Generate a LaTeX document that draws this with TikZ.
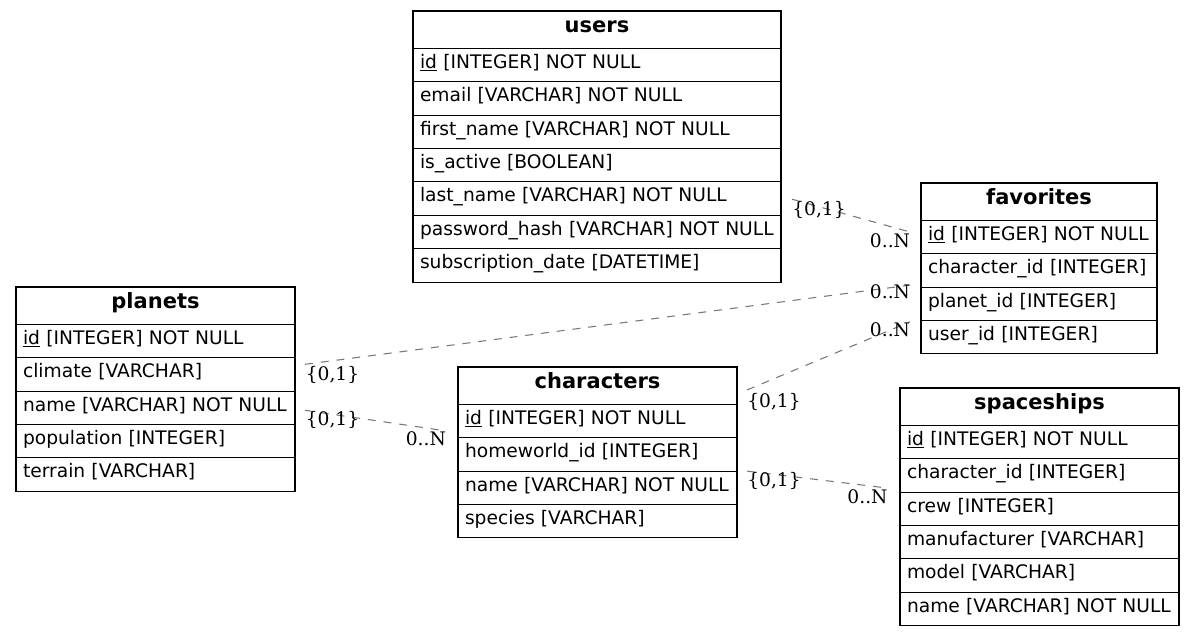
\documentclass[tikz,border=0pt]{standalone}
\usepackage{fontspec}
\setmainfont{DejaVu Sans}
\newfontfamily\cardfont{DejaVu Serif}
\usetikzlibrary{calc}
\definecolor{relgray}{RGB}{120,120,120}

\tikzset{
  tblhead/.style={draw, line width=0.8pt, outer sep=0pt, inner sep=0pt,
    minimum height=27.98pt, font=\fontsize{15.75}{18}\selectfont\bfseries,
    text height=0.7em, text depth=0.24em},
  tblrow/.style={draw, line width=0.8pt, outer sep=0pt, inner xsep=5.25pt,
    inner ysep=0pt, minimum height=25.05pt, align=left,
    font=\fontsize{14}{16.8}\selectfont, text height=0.72em, text depth=0.24em},
  rel/.style={draw=relgray, line width=0.8pt, dash pattern=on 6pt off 5.9pt},
  card/.style={anchor=base, inner sep=0pt, font=\cardfont\fontsize{14}{16.8}\selectfont}
}

% #1 name, #2 top-left corner, #3 width (px), #4 title, #5 column rows
\newcommand\erdtable[5]{%
  \pgfmathsetmacro\erdw{#3*0.75}%
  \pgfmathsetmacro\erdtw{(#3-14)*0.75}%
  \node[tblhead, minimum width=\erdw pt, anchor=north west] (#1-0) at #2 {#4};
  \foreach \r [count=\i, remember=\i as \j (initially 0)] in {#5}{
    \node[tblrow, text width=\erdtw pt, anchor=north west] (#1-\i) at (#1-\j.south west) {\r};
  }%
}

\begin{document}
\begin{tikzpicture}[x=0.75pt, y=-0.75pt]
  \fill[white] (0,0) rectangle (1195,637);
  \useasboundingbox (0,0) rectangle (1195,637);

  % tables
  \erdtable{users}{(413,11)}{368}{users}{%
    \underline{id} [INTEGER] NOT NULL,
    email [VARCHAR] NOT NULL,
    first\_name [VARCHAR] NOT NULL,
    is\_active [BOOLEAN],
    last\_name [VARCHAR] NOT NULL,
    password\_hash [VARCHAR] NOT NULL,
    subscription\_date [DATETIME]}

  \erdtable{favorites}{(921,183)}{236}{favorites}{%
    \underline{id} [INTEGER] NOT NULL,
    character\_id [INTEGER],
    planet\_id [INTEGER],
    user\_id [INTEGER]}

  \erdtable{planets}{(16,287)}{279}{planets}{%
    \underline{id} [INTEGER] NOT NULL,
    climate [VARCHAR],
    name [VARCHAR] NOT NULL,
    population [INTEGER],
    terrain [VARCHAR]}

  \erdtable{characters}{(458,367)}{279}{characters}{%
    \underline{id} [INTEGER] NOT NULL,
    homeworld\_id [INTEGER],
    name [VARCHAR] NOT NULL,
    species [VARCHAR]}

  \erdtable{spaceships}{(900,388)}{279}{spaceships}{%
    \underline{id} [INTEGER] NOT NULL,
    character\_id [INTEGER],
    crew [INTEGER],
    manufacturer [VARCHAR],
    model [VARCHAR],
    name [VARCHAR] NOT NULL}

  % relations
  \draw[rel] ($(users-5.east)+(11,0.6)$) -- ($(favorites-1.west)+(-11,-5)$);
  \draw[rel] ($(planets-1.south east)+(10,6.6)$) -- ($(favorites-2.south west)+(-11,-2)$);
  \draw[rel] ($(characters-0.east)+(10,4.3)$) -- ($(favorites-3.south west)+(-11,1.3)$);
  \draw[rel] ($(planets-3.east)+(10,2.5)$) -- ($(characters-1.west)+(-18,9)$);
  \draw[rel] ($(characters-2.south east)+(10,0)$) -- ($(spaceships-2.south west)+(-17,-4.6)$);

  % cardinalities
  \node[card] (c1a) at (819,215) {\{0,1\}};
  \node[card] (c1b) at (890,247.7) {0..N};
  \node[card] (c2a) at (332.5,380.3) {\{0,1\}};
  \node[card] (c2b) at (890,298.3) {0..N};
  \node[card] (c3a) at (774,407.3) {\{0,1\}};
  \node[card] (c3b) at (890,336.7) {0..N};
  \node[card] (c4a) at (332.5,425) {\{0,1\}};
  \node[card] (c4b) at (425.8,445) {0..N};
  \node[card] (c5a) at (774,486.7) {\{0,1\}};
  \node[card] (c5b) at (867.5,503.3) {0..N};
\end{tikzpicture}
\end{document}
